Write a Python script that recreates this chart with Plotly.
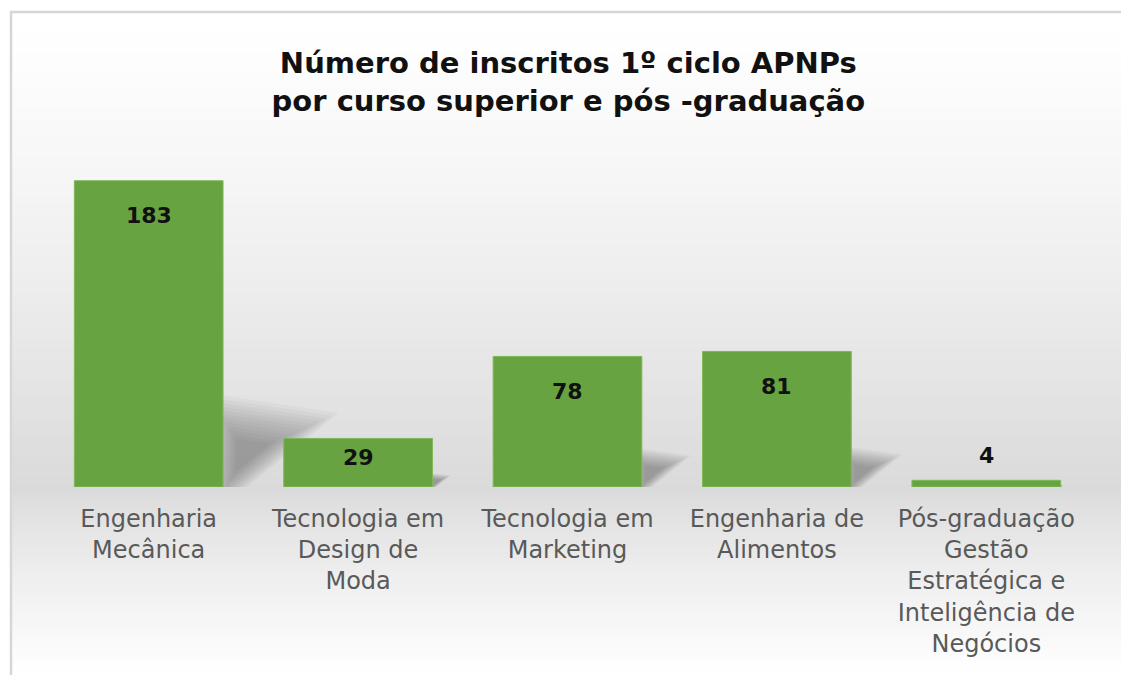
import plotly.graph_objects as go

# data
cursos = [
    "Engenharia<br>Mecânica",
    "Tecnologia em<br>Design de<br>Moda",
    "Tecnologia em<br>Marketing",
    "Engenharia de<br>Alimentos",
    "Pós-graduação<br>Gestão<br>Estratégica e<br>Inteligência de<br>Negócios",
]
inscritos = [183, 29, 78, 81, 4]

titulo = "Número de inscritos 1º ciclo APNPs<br>por curso superior e pós -graduação"

W, H = 1121, 675
ML, MR, MT, MB = 44, 30, 169, 188
PW, PH = W - ML - MR, H - MT - MB


def px_x(p):
    return (p - ML) / PW


def px_y(p):
    return (H - MB - p) / PH


def mix(c1, c2, t):
    return "rgb(%d,%d,%d)" % tuple(round(a + (b - a) * t) for a, b in zip(c1, c2))


fig = go.Figure()
fig.add_trace(go.Bar(
    x=cursos, y=inscritos,
    marker=dict(color="#68a342", line=dict(color="#7cb85a", width=1)),
    width=0.71,
    hoverinfo="x+y",
))

# chart area background: white -> grey near the axis -> white, as thin stripes
white = (255, 255, 255)
grey = (218, 218, 218)
top_px, mid_px, bot_px = 12, 490, H
left_px = 11
shapes = []
n = 70
for k in range(n):
    a = top_px + (mid_px - top_px) * k / n
    b = top_px + (mid_px - top_px) * (k + 1) / n + 0.7
    shapes.append(dict(type="rect", xref="paper", yref="paper", layer="below",
                       x0=px_x(left_px), x1=px_x(W + 20), y0=px_y(b), y1=px_y(a),
                       line=dict(width=0), fillcolor=mix(white, grey, ((k + 0.5) / n) ** 1.3)))
for k in range(n):
    a = mid_px + (bot_px - mid_px) * k / n
    b = mid_px + (bot_px - mid_px) * (k + 1) / n + 0.7
    shapes.append(dict(type="rect", xref="paper", yref="paper", layer="below",
                       x0=px_x(left_px), x1=px_x(W + 20), y0=px_y(b), y1=px_y(a),
                       line=dict(width=0), fillcolor=mix(grey, white, ((k + 0.5) / n) ** 0.8)))

# soft perspective shadows to the right of each bar (layered polygons fake a blur)
for i, v in enumerate(inscritos):
    xr = i + 0.355
    h = 0.28 * v
    w = 0.0027 * v
    pts = [(xr - 0.05, -0.3 * h), (xr - 0.05, h), (xr + w, 0.8 * h), (xr - 0.13 * w, -0.3 * h)]
    cx, cy = xr + 0.22 * w, 0.38 * h
    layers = 12
    for j in range(layers):
        s = 1.15 - 0.85 * j / (layers - 1)
        sp = [(cx + s * (px - cx), cy + s * (py - cy)) for px, py in pts]
        path = "M " + " L ".join("%f,%f" % p for p in sp) + " Z"
        shapes.append(dict(type="path", xref="x", yref="y", layer="below", path=path,
                           fillcolor="rgba(60,60,60,0.045)", line=dict(width=0)))

# outer frame (left and top edges visible)
shapes.append(dict(type="rect", xref="paper", yref="paper",
                   x0=px_x(left_px), x1=px_x(W + 20), y0=px_y(H + 20), y1=px_y(12),
                   line=dict(color="#d6d6d6", width=2.5), fillcolor="rgba(0,0,0,0)"))

# value labels: inside near the top for tall bars, above for tiny ones
annotations = []
for c, v in zip(cursos, inscritos):
    if v > 50:
        ys = -35
    elif v > 10:
        ys = -19
    else:
        ys = 25
    annotations.append(dict(x=c, y=v, text=str(v), showarrow=False, yshift=ys,
                            font=dict(family="DejaVu Sans", size=22, color="#111111", weight="bold"),
                            xref="x", yref="y"))

fig.update_layout(
    width=W, height=H,
    margin=dict(l=ML, r=MR, t=MT, b=MB, autoexpand=False),
    paper_bgcolor="white", plot_bgcolor="rgba(0,0,0,0)",
    title=dict(text=titulo, x=0.507, xanchor="center", y=1 - 73 / H, yanchor="middle",
               font=dict(family="DejaVu Sans", size=29, color="#111111", weight="bold")),
    xaxis=dict(showline=False, showgrid=False, ticks="", tickangle=0, ticklabelstandoff=15,
               tickfont=dict(family="DejaVu Sans", size=24, color="#595959")),
    yaxis=dict(range=[0, 190], visible=False),
    showlegend=False,
    shapes=shapes,
    annotations=annotations,
)

fig.write_html("out.html", config={"displayModeBar": False},
               post_script="document.body.style.margin='0';")
